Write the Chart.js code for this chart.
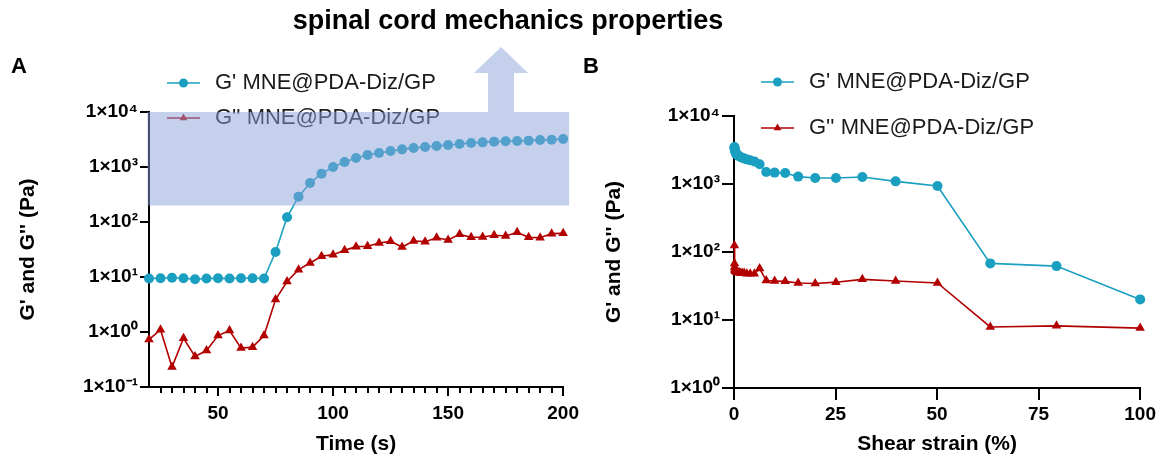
<!DOCTYPE html>
<html>
<head>
<meta charset="utf-8">
<script src="https://cdn.jsdelivr.net/npm/chart.js@4.4.1/dist/chart.umd.min.js"></script>
<style>
  body { margin: 0; background: #fff; width: 1159px; height: 460px; position: relative; overflow: hidden; font-family: 'Liberation Sans', Arial, sans-serif; }
  canvas { position: absolute; top: 0; }
  #chartA { left: 0; }
  #chartB { left: 585px; }
  .lbl { position: absolute; font-weight: bold; color: #000; }
</style>
</head>
<body>
<canvas id="chartA" width="585" height="460"></canvas>
<canvas id="chartB" width="574" height="460"></canvas>
<div class="lbl" style="left:0;width:1016px;top:5px;text-align:center;font-size:27px;">spinal cord mechanics properties</div>
<div class="lbl" style="left:11px;top:53px;font-size:22px;">A</div>
<div class="lbl" style="left:583px;top:53px;font-size:22px;">B</div>
<script>
// panel A: time sweep
const timeS = [20, 25, 30, 35, 40, 45, 50, 55, 60, 65, 70, 75, 80, 85, 90, 95, 100, 105, 110, 115, 120,
  125, 130, 135, 140, 145, 150, 155, 160, 165, 170, 175, 180, 185, 190, 195, 200];
const gPrimeTime = [9.4, 9.5, 9.7, 9.5, 9.1, 9.4, 9.5, 9.4, 9.5, 9.5, 9.4, 28.5, 122, 289, 512, 757, 1000,
  1233, 1459, 1653, 1798, 1955, 2094, 2213, 2311, 2411, 2512, 2620, 2730, 2807, 2890, 2930, 2970, 3015, 3100, 3140, 3230];
const gDoubleTime = [0.73, 1.10, 0.23, 0.77, 0.36, 0.46, 0.86, 1.06, 0.51, 0.53, 0.86, 3.9, 8.3, 13.6, 18, 23.8, 25.5,
  30.5, 35.6, 36.2, 41.5, 44.5, 35, 45, 43.9, 51.8, 47, 59.7, 52.6, 53.4, 57.3, 55.6, 64.9, 52.6, 51.8, 61.4, 62.2];

// panel B: strain sweep
const strainPct = [0.1, 0.126, 0.158, 0.2, 0.251, 0.316, 0.398, 0.501, 0.631, 0.794, 1, 1.26, 1.58, 2, 2.51, 3.16,
  3.98, 5.01, 6.31, 7.94, 10, 12.6, 15.8, 20, 25.1, 31.6, 39.8, 50.1, 63.1, 79.4, 100];
const gPrimeStrain = [3500, 3400, 3300, 3200, 3100, 3000, 2900, 2800, 2750, 2680, 2620, 2560, 2500, 2440, 2380, 2300,
  2230, 2150, 1950, 1500, 1470, 1450, 1285, 1225, 1225, 1268, 1094, 935, 68, 62, 20.1];
const gDoubleStrain = [125, 68, 60, 56, 54, 53, 52, 52, 51, 51, 50, 50, 49, 49, 49, 48, 48, 48, 57, 38, 37.5, 37, 35,
  34.5, 36, 39.6, 37.5, 35, 7.9, 8.2, 7.6];

const seriesNames = ["G' MNE@PDA-Diz/GP", "G'' MNE@PDA-Diz/GP"];
const yTicksA = [0.1, 1, 10, 100, 1000, 10000];
const yTicksB = [1, 10, 100, 1000, 10000];
const timeTicks = [50, 100, 150, 200];
const timeMinorTicks = [25, 30, 35, 40, 45, 55, 60, 65, 70, 75, 80, 85, 90, 95, 105, 110, 115, 120, 125, 130, 135, 140, 145,
  155, 160, 165, 170, 175, 180, 185, 190, 195];
const strainTicks = [0, 25, 50, 75, 100];
const bandRange = [200, 10000]; // highlighted G' range (Pa)

const TEAL = '#1a9fc0';
const RED = '#b20000';
const FONT = "'Liberation Sans', Arial, sans-serif";
Chart.defaults.font.family = FONT;
Chart.defaults.color = '#000';

const SUP = { '-': '\u207B', '0': '\u2070', '1': '\u00B9', '2': '\u00B2', '3': '\u00B3', '4': '\u2074' };
function expLabel(v) {
  const e = String(Math.round(Math.log10(v)));
  return '1\u00D710' + e.split('').map(c => SUP[c]).join('');
}

const deco = {
  id: 'deco',
  beforeDatasetsDraw(chart, args, opts) {
    const ctx = chart.ctx;
    ctx.save();
    chart.data.datasets.forEach((ds, i) => {
      const x0 = opts.legendX, y = opts.legendY[i];
      ctx.strokeStyle = ds.borderColor;
      ctx.lineWidth = 1.6;
      ctx.beginPath();
      ctx.moveTo(x0, y);
      ctx.lineTo(x0 + 33, y);
      ctx.stroke();
      ctx.fillStyle = ds.pointBackgroundColor;
      Chart.helpers.drawPoint(ctx, { pointStyle: ds.pointStyle, radius: 4.5, borderWidth: 0, rotation: 0 }, x0 + 16.5, y);
      ctx.fillStyle = '#1a1a1a';
      ctx.font = '22px ' + FONT;
      ctx.textBaseline = 'middle';
      ctx.fillText(ds.label, x0 + 48, y);
    });
    ctx.restore();
  },
  afterDatasetsDraw(chart, args, opts) {
    const { ctx, chartArea } = chart;
    const xs = chart.scales.x, ys = chart.scales.y;
    ctx.save();
    if (opts.minorTicks) {
      ctx.strokeStyle = '#000';
      ctx.lineWidth = 2;
      opts.minorTicks.forEach(v => {
        const px = Math.round(xs.getPixelForValue(v));
        ctx.beginPath();
        ctx.moveTo(px, chartArea.bottom);
        ctx.lineTo(px, chartArea.bottom + 6);
        ctx.stroke();
      });
    }
    if (opts.band) {
      const top = ys.getPixelForValue(opts.band[1]);
      const bot = ys.getPixelForValue(opts.band[0]);
      const left = chartArea.left - 1.5, right = chartArea.right + 6;
      const cx = xs.getPixelForValue(173);
      ctx.fillStyle = 'rgba(140,162,218,0.5)';
      ctx.beginPath();
      ctx.moveTo(left, bot);
      ctx.lineTo(left, top);
      ctx.lineTo(cx - 13, top);
      ctx.lineTo(cx - 13, top - 39);
      ctx.lineTo(cx - 27, top - 39);
      ctx.lineTo(cx, top - 65);
      ctx.lineTo(cx + 27, top - 39);
      ctx.lineTo(cx + 13, top - 39);
      ctx.lineTo(cx + 13, top);
      ctx.lineTo(right, top);
      ctx.lineTo(right, bot);
      ctx.closePath();
      ctx.fill();
    }
    ctx.restore();
  }
};

function makeChart(id, xVals, g1, g2, xOpts, yTicks, decoOpts, yMin) {
  const mk = (vals) => xVals.map((x, i) => ({ x: x, y: vals[i] }));
  const tl = decoOpts.tickLen;
  return new Chart(document.getElementById(id), {
    type: 'line',
    data: {
      datasets: [
        { label: seriesNames[0], data: mk(g1), borderColor: TEAL, backgroundColor: TEAL, pointBackgroundColor: TEAL,
          pointStyle: 'circle', pointRadius: 5, pointHoverRadius: 5, pointBorderWidth: 0, borderWidth: 1.6, clip: false },
        { label: seriesNames[1], data: mk(g2), borderColor: RED, backgroundColor: RED, pointBackgroundColor: RED,
          pointStyle: 'triangle', pointRadius: 5.5, pointHoverRadius: 5.5, pointBorderWidth: 0, borderWidth: 1.6, clip: false }
      ]
    },
    options: {
      responsive: false,
      animation: false,
      layout: { padding: { top: decoOpts.top, right: 18, left: 0, bottom: 0 } },
      plugins: { legend: { display: false }, tooltip: { enabled: false }, deco: decoOpts },
      scales: {
        x: Object.assign({
          type: 'linear',
          border: { display: true, color: '#000', width: 2 },
          grid: { drawOnChartArea: false, drawTicks: true, tickLength: tl, color: '#000', lineWidth: 2 },
          title: { display: true, text: xOpts.title, font: { size: 21, weight: 'bold' }, padding: { top: 0, bottom: 3 } },
          afterFit: (s) => { s.height = 460 - decoOpts.bottom; }
        }, xOpts.scale),
        y: {
          type: 'logarithmic',
          min: yMin,
          max: 10000,
          afterBuildTicks: (s) => { s.ticks = yTicks.map(v => ({ value: v })); },
          ticks: { callback: (v) => expLabel(v), font: { size: 19, weight: 'bold' }, padding: 2 },
          border: { display: true, color: '#000', width: 2 },
          grid: { drawOnChartArea: false, drawTicks: true, tickLength: tl, color: '#000', lineWidth: 2 },
          title: { display: true, text: "G' and G'' (Pa)", font: { size: 21, weight: 'bold' }, padding: { top: decoOpts.yTitlePad, bottom: 0 } },
          afterFit: (s) => { s.width = 149; }
        }
      }
    },
    plugins: [deco]
  });
}

makeChart('chartA', timeS, gPrimeTime, gDoubleTime,
  {
    title: 'Time (s)',
    scale: {
      min: 20, max: 200,
      afterBuildTicks: (s) => { s.ticks = timeTicks.map(v => ({ value: v })); },
      ticks: { font: { size: 19, weight: 'bold' }, padding: 6 }
    }
  },
  yTicksA,
  { top: 112, bottom: 387, tickLen: 9, yTitlePad: 16, legendX: 167, legendY: [83, 118], minorTicks: timeMinorTicks, band: bandRange },
  0.1);

makeChart('chartB', strainPct, gPrimeStrain, gDoubleStrain,
  {
    title: 'Shear strain (%)',
    scale: {
      min: 0, max: 100,
      afterBuildTicks: (s) => { s.ticks = strainTicks.map(v => ({ value: v })); },
      ticks: { font: { size: 19, weight: 'bold' }, padding: 3 }
    }
  },
  yTicksB,
  { top: 116, bottom: 388, tickLen: 12, yTitlePad: 17, legendX: 176, legendY: [82, 128] },
  1);
</script>
</body>
</html>
